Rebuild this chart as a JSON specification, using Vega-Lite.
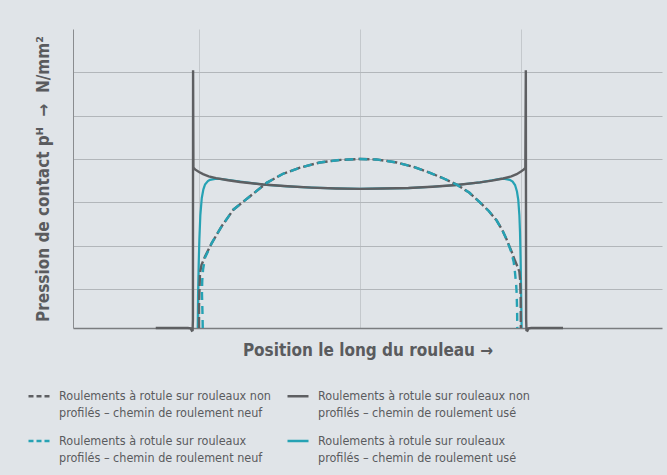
{
  "$schema": "https://vega.github.io/schema/vega-lite/v6.json",
  "width": 589,
  "height": 299,
  "autosize": {"type": "none"},
  "padding": {"left": 73, "top": 29, "right": 5, "bottom": 147},
  "background": "#e0e4e8",
  "config": {
    "view": {"stroke": null},
    "font": "Liberation Sans Narrow, DejaVu Sans Condensed, Roboto Condensed, Roboto",
    "legend": {
      "padding": 0,
      "symbolType": "stroke",
      "symbolSize": 441,
      "symbolStrokeWidth": 2.5,
      "labelFontSize": 12.5,
      "labelColor": "#5a5b5e",
      "labelOffset": 8,
      "labelLimit": 0,
      "columnPadding": 11,
      "rowPadding": 9
    }
  },
  "data": {
    "values": [
      {"s": "d", "x": -1.008, "y": 0.1},
      {"s": "d", "x": -1.006, "y": 0.9},
      {"s": "d", "x": -1.002, "y": 1.6},
      {"s": "d", "x": -0.998, "y": 2.14},
      {"s": "d", "x": -0.992, "y": 2.7},
      {"s": "d", "x": -0.983, "y": 3.1},
      {"s": "d", "x": -0.973, "y": 3.3},
      {"s": "d", "x": -0.963, "y": 3.41},
      {"s": "d", "x": -0.945, "y": 3.49},
      {"s": "d", "x": -0.932, "y": 3.52},
      {"s": "d", "x": -0.9, "y": 3.54},
      {"s": "d", "x": -0.87, "y": 3.54},
      {"s": "d", "x": -0.8, "y": 3.51},
      {"s": "d", "x": -0.745, "y": 3.48},
      {"s": "d", "x": -0.6, "y": 3.41},
      {"s": "d", "x": -0.45, "y": 3.37},
      {"s": "d", "x": -0.3, "y": 3.34},
      {"s": "d", "x": -0.15, "y": 3.32},
      {"s": "d", "x": 0, "y": 3.31},
      {"s": "d", "x": 0.15, "y": 3.32},
      {"s": "d", "x": 0.3, "y": 3.33},
      {"s": "d", "x": 0.45, "y": 3.36},
      {"s": "d", "x": 0.6, "y": 3.4},
      {"s": "d", "x": 0.745, "y": 3.46},
      {"s": "d", "x": 0.82, "y": 3.51},
      {"s": "d", "x": 0.87, "y": 3.54},
      {"s": "d", "x": 0.9, "y": 3.54},
      {"s": "d", "x": 0.93, "y": 3.52},
      {"s": "d", "x": 0.948, "y": 3.48},
      {"s": "d", "x": 0.963, "y": 3.4},
      {"s": "d", "x": 0.975, "y": 3.25},
      {"s": "d", "x": 0.983, "y": 3.06},
      {"s": "d", "x": 0.99, "y": 2.7},
      {"s": "d", "x": 0.994, "y": 2.3},
      {"s": "d", "x": 0.998, "y": 1.6},
      {"s": "d", "x": 1.001, "y": 0.9},
      {"s": "d", "x": 1.004, "y": 0.1},

      {"s": "b", "x": -1.269, "y": 0.1},
      {"s": "b", "x": -1.07, "y": 0.1},
      {"s": "b", "x": -1.052, "y": 0.09},
      {"s": "b", "x": -1.045, "y": 0.04},
      {"s": "b", "x": -1.04, "y": 0.05},
      {"s": "b", "x": -1.038, "y": 0.3},
      {"s": "b", "x": -1.037, "y": 6.05},
      {"s": "b", "x": -1.035, "y": 3.8},
      {"s": "b", "x": -1.025, "y": 3.76},
      {"s": "b", "x": -1.0, "y": 3.7},
      {"s": "b", "x": -0.975, "y": 3.65},
      {"s": "b", "x": -0.94, "y": 3.6},
      {"s": "b", "x": -0.894, "y": 3.56},
      {"s": "b", "x": -0.82, "y": 3.51},
      {"s": "b", "x": -0.745, "y": 3.47},
      {"s": "b", "x": -0.6, "y": 3.41},
      {"s": "b", "x": -0.45, "y": 3.37},
      {"s": "b", "x": -0.3, "y": 3.34},
      {"s": "b", "x": -0.15, "y": 3.32},
      {"s": "b", "x": 0, "y": 3.31},
      {"s": "b", "x": 0.15, "y": 3.32},
      {"s": "b", "x": 0.3, "y": 3.33},
      {"s": "b", "x": 0.45, "y": 3.36},
      {"s": "b", "x": 0.6, "y": 3.4},
      {"s": "b", "x": 0.745, "y": 3.46},
      {"s": "b", "x": 0.82, "y": 3.5},
      {"s": "b", "x": 0.89, "y": 3.55},
      {"s": "b", "x": 0.94, "y": 3.6},
      {"s": "b", "x": 0.973, "y": 3.65},
      {"s": "b", "x": 1.0, "y": 3.71},
      {"s": "b", "x": 1.018, "y": 3.76},
      {"s": "b", "x": 1.027, "y": 3.8},
      {"s": "b", "x": 1.03, "y": 6.05},
      {"s": "b", "x": 1.032, "y": 0.3},
      {"s": "b", "x": 1.034, "y": 0.05},
      {"s": "b", "x": 1.04, "y": 0.04},
      {"s": "b", "x": 1.047, "y": 0.09},
      {"s": "b", "x": 1.065, "y": 0.1},
      {"s": "b", "x": 1.261, "y": 0.1},

      {"s": "a", "x": -1.0, "y": 0.1},
      {"s": "a", "x": -1.0, "y": 0.6},
      {"s": "a", "x": -0.998, "y": 0.91},
      {"s": "a", "x": -0.994, "y": 1.37},
      {"s": "a", "x": -0.985, "y": 1.55},
      {"s": "a", "x": -0.963, "y": 1.75},
      {"s": "a", "x": -0.921, "y": 2.06},
      {"s": "a", "x": -0.859, "y": 2.45},
      {"s": "a", "x": -0.787, "y": 2.83},
      {"s": "a", "x": -0.683, "y": 3.14},
      {"s": "a", "x": -0.58, "y": 3.45},
      {"s": "a", "x": -0.478, "y": 3.66},
      {"s": "a", "x": -0.373, "y": 3.8},
      {"s": "a", "x": -0.25, "y": 3.92},
      {"s": "a", "x": -0.12, "y": 3.98},
      {"s": "a", "x": 0, "y": 4.0},
      {"s": "a", "x": 0.1, "y": 3.99},
      {"s": "a", "x": 0.228, "y": 3.92},
      {"s": "a", "x": 0.33, "y": 3.82},
      {"s": "a", "x": 0.435, "y": 3.68},
      {"s": "a", "x": 0.52, "y": 3.55},
      {"s": "a", "x": 0.6, "y": 3.41},
      {"s": "a", "x": 0.68, "y": 3.22},
      {"s": "a", "x": 0.745, "y": 3.0},
      {"s": "a", "x": 0.8, "y": 2.8},
      {"s": "a", "x": 0.849, "y": 2.58},
      {"s": "a", "x": 0.885, "y": 2.35},
      {"s": "a", "x": 0.911, "y": 2.14},
      {"s": "a", "x": 0.94, "y": 1.88},
      {"s": "a", "x": 0.963, "y": 1.65},
      {"s": "a", "x": 0.98, "y": 1.5},
      {"s": "a", "x": 0.99, "y": 1.4},
      {"s": "a", "x": 0.995, "y": 1.2},
      {"s": "a", "x": 0.998, "y": 0.8},
      {"s": "a", "x": 0.999, "y": 0.1},

      {"s": "c", "x": -0.977, "y": 0.1},
      {"s": "c", "x": -0.979, "y": 0.5},
      {"s": "c", "x": -0.982, "y": 0.91},
      {"s": "c", "x": -0.98, "y": 1.2},
      {"s": "c", "x": -0.975, "y": 1.45},
      {"s": "c", "x": -0.963, "y": 1.72},
      {"s": "c", "x": -0.921, "y": 2.06},
      {"s": "c", "x": -0.859, "y": 2.45},
      {"s": "c", "x": -0.787, "y": 2.83},
      {"s": "c", "x": -0.683, "y": 3.14},
      {"s": "c", "x": -0.58, "y": 3.45},
      {"s": "c", "x": -0.478, "y": 3.66},
      {"s": "c", "x": -0.373, "y": 3.8},
      {"s": "c", "x": -0.25, "y": 3.92},
      {"s": "c", "x": -0.12, "y": 3.98},
      {"s": "c", "x": 0, "y": 4.0},
      {"s": "c", "x": 0.1, "y": 3.99},
      {"s": "c", "x": 0.228, "y": 3.92},
      {"s": "c", "x": 0.33, "y": 3.82},
      {"s": "c", "x": 0.435, "y": 3.68},
      {"s": "c", "x": 0.52, "y": 3.55},
      {"s": "c", "x": 0.6, "y": 3.41},
      {"s": "c", "x": 0.68, "y": 3.22},
      {"s": "c", "x": 0.745, "y": 3.0},
      {"s": "c", "x": 0.8, "y": 2.8},
      {"s": "c", "x": 0.849, "y": 2.58},
      {"s": "c", "x": 0.885, "y": 2.35},
      {"s": "c", "x": 0.911, "y": 2.14},
      {"s": "c", "x": 0.94, "y": 1.85},
      {"s": "c", "x": 0.955, "y": 1.62},
      {"s": "c", "x": 0.963, "y": 1.37},
      {"s": "c", "x": 0.97, "y": 1.1},
      {"s": "c", "x": 0.973, "y": 0.91},
      {"s": "c", "x": 0.976, "y": 0.5},
      {"s": "c", "x": 0.977, "y": 0.1}
    ]
  },
  "encoding": {
    "x": {
      "field": "x", "type": "quantitative",
      "scale": {"domain": [-1.783, 1.876], "nice": false, "zero": false},
      "axis": {
        "values": [-1, 0, 1], "labels": false, "ticks": false,
        "grid": true, "gridColor": "#c4c8cc", "gridWidth": 1,
        "domain": true, "domainColor": "#7a7c7f", "domainWidth": 1.5,
        "title": "Position le long du rouleau\u00a0→",
        "titleFontSize": 17, "titleFontWeight": "bold", "titleColor": "#5a5b5e",
        "titlePadding": 14
      }
    },
    "y": {
      "field": "y", "type": "quantitative",
      "scale": {"domain": [0.1, 7.0], "nice": false, "zero": false},
      "axis": {
        "values": [1, 2, 3, 4, 5, 6], "labels": false, "ticks": false,
        "grid": true, "gridColor": "#b2b6ba", "gridWidth": 1,
        "domain": true, "domainColor": "#8a8c8f", "domainWidth": 1,
        "title": "Pression de contact pᴴ\u00a0\u00a0→\u00a0\u00a0N/mm²",
        "titleFontSize": 17, "titleFontWeight": "bold", "titleColor": "#5a5b5e",
        "titlePadding": 21
      }
    },
    "color": {
      "field": "s", "type": "nominal",
      "scale": {"domain": ["a", "b", "c", "d"], "range": ["#5e5f62", "#5e5f62", "#26a2b4", "#26a2b4"]},
      "legend": {
        "title": null, "orient": "none", "direction": "horizontal", "legendX": -46, "legendY": 355, "columns": 2,
        "labelExpr": "datum.value == 'a' ? ['Roulements à rotule sur rouleaux non', 'profilés – chemin de roulement neuf'] : datum.value == 'b' ? ['Roulements à rotule sur rouleaux non', 'profilés – chemin de roulement usé'] : datum.value == 'c' ? ['Roulements à rotule sur rouleaux', 'profilés – chemin de roulement neuf'] : ['Roulements à rotule sur rouleaux', 'profilés – chemin de roulement usé']",
        "encode": {"labels": {"update": {"lineHeight": {"value": 17}}}}
      }
    },
    "order": {"value": null}
  },
  "layer": [
    {"transform": [{"filter": "datum.s == 'd'"}], "mark": {"type": "line", "strokeWidth": 2.2}},
    {"transform": [{"filter": "datum.s == 'b'"}], "mark": {"type": "line", "strokeWidth": 2.4}},
    {"transform": [{"filter": "datum.s == 'a'"}], "mark": {"type": "line", "strokeWidth": 2.4, "strokeDash": [11, 3]}},
    {"transform": [{"filter": "datum.s == 'c'"}], "mark": {"type": "line", "strokeWidth": 2.4, "strokeDash": [8, 6]}},
    {
      "transform": [{"filter": "false"}],
      "mark": {"type": "line", "strokeWidth": 2.4},
      "encoding": {
        "strokeDash": {
          "field": "s", "type": "nominal",
          "scale": {"domain": ["a", "b", "c", "d"], "range": [[5, 3], [1, 0], [5, 3], [1, 0]]},
          "legend": {
            "title": null, "orient": "none", "direction": "horizontal", "legendX": -46, "legendY": 355, "columns": 2,
            "labelExpr": "datum.value == 'a' ? ['Roulements à rotule sur rouleaux non', 'profilés – chemin de roulement neuf'] : datum.value == 'b' ? ['Roulements à rotule sur rouleaux non', 'profilés – chemin de roulement usé'] : datum.value == 'c' ? ['Roulements à rotule sur rouleaux', 'profilés – chemin de roulement neuf'] : ['Roulements à rotule sur rouleaux', 'profilés – chemin de roulement usé']",
            "encode": {"labels": {"update": {"lineHeight": {"value": 17}}}}
          }
        }
      }
    }
  ]
}
